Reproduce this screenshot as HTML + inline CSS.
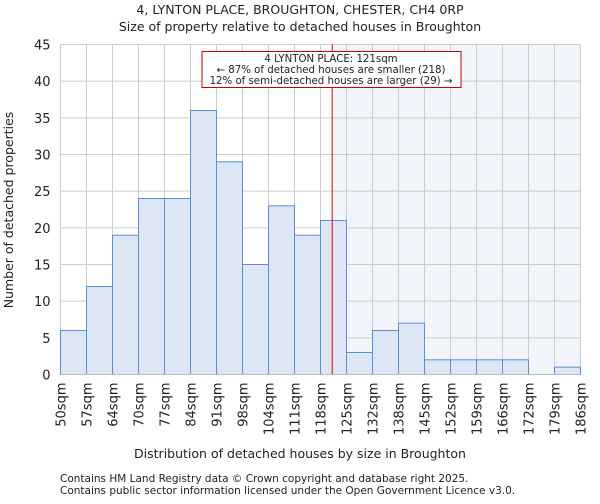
<!DOCTYPE html>
<html><head><meta charset="utf-8"><style>
body{margin:0;background:#fff;font-family:"DejaVu Sans","Liberation Sans",sans-serif}
svg text{font-family:"DejaVu Sans","Liberation Sans",sans-serif;fill:#222}
</style></head><body>
<svg id="c" width="600" height="500" xmlns="http://www.w3.org/2000/svg">
<text x="300" y="14" font-size="12.5" text-anchor="middle">4, LYNTON PLACE, BROUGHTON, CHESTER, CH4 0RP</text>
<text x="300" y="31" font-size="12.5" text-anchor="middle">Size of property relative to detached houses in Broughton</text>
<text x="300" y="458" font-size="12.5" text-anchor="middle">Distribution of detached houses by size in Broughton</text>
<text transform="translate(13,210) rotate(-90)" font-size="12.5" text-anchor="middle">Number of detached properties</text>
<text x="60" y="482" font-size="10.5">Contains HM Land Registry data © Crown copyright and database right 2025.</text>
<text x="60" y="494" font-size="10.5">Contains public sector information licensed under the Open Government Licence v3.0.</text>
<g id="plot"></g>
</svg>
<script>
const labels=["50sqm","57sqm","64sqm","70sqm","77sqm","84sqm","91sqm","98sqm","104sqm","111sqm","118sqm","125sqm","132sqm","138sqm","145sqm","152sqm","159sqm","166sqm","172sqm","179sqm","186sqm"];
const counts=[6,12,19,24,24,36,29,15,23,19,21,3,6,7,2,2,2,2,0,1];
const yTicks=[0,5,10,15,20,25,30,35,40,45];
const markerBin=10.45;
const NS="http://www.w3.org/2000/svg";
const x0=60.5,x1=580.5,y0=374.5,y1=44.5,yMax=45;
const bw=(x1-x0)/counts.length;
const X=i=>x0+i*bw, Y=v=>y0-(v/yMax)*(y0-y1);
const g=document.getElementById('plot');
function mk(t,a){const e=document.createElementNS(NS,t);for(const k in a)e.setAttribute(k,a[k]);g.appendChild(e);return e;}
const mx=X(markerBin);
let e=mk('rect',{x:mx,y:y1,width:x1-mx,height:y0-y1,fill:'#f2f5fc'});


yTicks.forEach(t=>{
 let l=mk('line',{x1:x0,x2:x1,y1:Y(t),y2:Y(t),stroke:'#ccc','stroke-width':1});
 
 
 let tx=mk('text',{x:x0-10,y:Y(t)+5,'font-size':13,'text-anchor':'end'});tx.textContent=t;
 
 
});
labels.forEach((s,i)=>{
 let l=mk('line',{x1:X(i),x2:X(i),y1:y1,y2:y0,stroke:'#ccc','stroke-width':1});
 
 
 let tx=mk('text',{transform:`translate(${X(i)+5},${y0+8}) rotate(-90)`,'font-size':13,'text-anchor':'end'});tx.textContent=s;
 
 
});
counts.forEach((v,i)=>{
 if(v<=0)return;
 let r=mk('rect',{x:X(i),y:Y(v),width:bw,height:y0-Y(v),fill:'#dce6f4',stroke:'#5b8ed6','stroke-width':1});
 
 
});
let ml=mk('line',{x1:mx,x2:mx,y1:y1,y2:y0,stroke:'#d00','stroke-width':1});


let ax=mk('line',{x1:x0,x2:x1,y1:y0,y2:y0,stroke:'#bbb'});


let box=mk('rect',{x:202,y:51.5,width:259,height:36,fill:'#fff',stroke:'#c00','stroke-width':1});


["4 LYNTON PLACE: 121sqm","← 87% of detached houses are smaller (218)","12% of semi-detached houses are larger (29) →"].forEach((s,i)=>{
 let t=mk('text',{x:331,y:62+i*11,'font-size':10.2,'text-anchor':'middle'});t.textContent=s;
 
 
});
</script>
</body></html>
